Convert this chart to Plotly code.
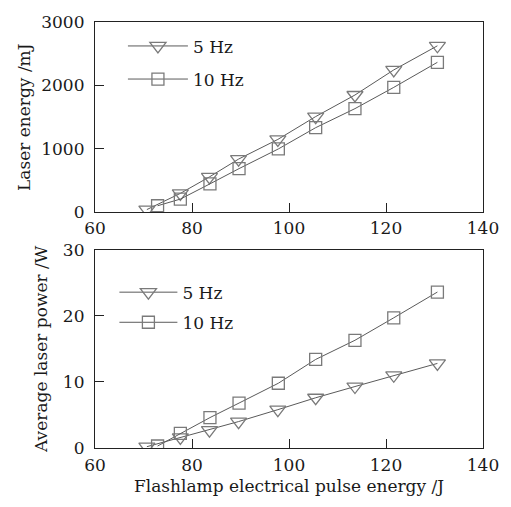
import plotly.graph_objects as go

# Data
x_5hz = [70.7, 77.6, 83.6, 89.6, 97.7, 105.5, 113.6, 121.6, 130.6]
x_10hz = [72.9, 77.6, 83.7, 89.7, 97.8, 105.5, 113.6, 121.6, 130.6]
energy_5hz = [45, 300, 560, 840, 1150, 1510, 1850, 2245, 2625]
energy_10hz = [105, 210, 450, 690, 1000, 1335, 1635, 1970, 2365]
power_5hz = [0.2, 1.6, 2.7, 4.0, 5.8, 7.6, 9.3, 11.0, 12.8]
power_10hz = [0.3, 2.2, 4.6, 6.8, 9.8, 13.4, 16.3, 19.7, 23.6]
x_ticks = [60, 80, 100, 120, 140]
energy_ticks = [0, 1000, 2000, 3000]
power_ticks = [0, 10, 20, 30]

FONT = "DejaVu Serif"
FS = 17
LINE = "#5a5a5a"
MARK = "#7a7a7a"
TXT = "#1a1a1a"

fig = go.Figure()

def add(x, y, name, sym, size, xa, ya, leg, grp):
    fig.add_trace(go.Scatter(
        x=x, y=y, name=name, mode="lines+markers",
        line=dict(color=LINE, width=1),
        marker=dict(symbol=sym, size=size, color=MARK,
                    line=dict(color=MARK, width=1.3)),
        xaxis=xa, yaxis=ya, legend=leg, legendgroup=grp))

add(x_5hz, energy_5hz, "5 Hz", "triangle-down-open", 14, "x", "y", "legend", "a")
add(x_10hz, energy_10hz, "10 Hz", "square-open", 12, "x", "y", "legend", "b")
add(x_5hz, power_5hz, "5 Hz", "triangle-down-open", 14, "x2", "y2", "legend2", "c")
add(x_10hz, power_10hz, "10 Hz", "square-open", 12, "x2", "y2", "legend2", "d")

ax_common = dict(showline=True, linecolor="#222", linewidth=1.2, mirror=True,
                 ticks="inside", ticklen=9, tickcolor="#222", tickwidth=1,
                 showgrid=False, zeroline=False,
                 tickfont=dict(family=FONT, size=FS, color=TXT))

tfont = dict(family=FONT, size=FS, color=TXT)

fig.update_layout(
    width=511, height=507,
    margin=dict(l=95, r=25, t=14, b=59),
    paper_bgcolor="white", plot_bgcolor="white",
    font=dict(family=FONT, size=FS, color=TXT),
    xaxis=dict(domain=[0, 1], range=[60, 140], tickvals=x_ticks, anchor="y",
               ticklabelstandoff=0, **ax_common),
    yaxis=dict(domain=[0.553, 1], range=[0, 3000], tickvals=energy_ticks, anchor="x",
               ticklabelstandoff=6,
               title=dict(text="Laser energy /mJ", font=tfont, standoff=6),
               **ax_common),
    xaxis2=dict(domain=[0, 1], range=[60, 140], tickvals=x_ticks, anchor="y2",
                ticklabelstandoff=1,
                title=dict(text="Flashlamp electrical pulse energy /J", font=tfont, standoff=6),
                **ax_common),
    yaxis2=dict(domain=[0, 0.4654], range=[0, 30], tickvals=power_ticks, anchor="x2",
                ticklabelstandoff=6,
                title=dict(text="Average laser power /W", font=tfont, standoff=10),
                **ax_common),
    legend=dict(x=0.072, y=0.985, xanchor="left", yanchor="top", bgcolor="rgba(0,0,0,0)",
                itemwidth=60, traceorder="grouped", tracegroupgap=8,
                font=dict(family=FONT, size=FS, color=TXT)),
    legend2=dict(x=0.05, y=0.407, xanchor="left", yanchor="top", bgcolor="rgba(0,0,0,0)",
                 itemwidth=58, traceorder="grouped", tracegroupgap=5,
                 font=dict(family=FONT, size=FS, color=TXT)),
)

fig.write_html("out.html", post_script="document.body.style.margin='0';",
               config={"displayModeBar": False})
